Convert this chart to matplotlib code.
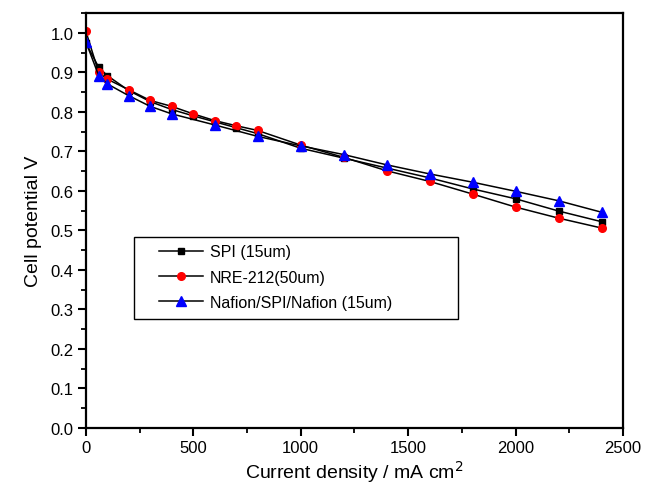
import matplotlib
matplotlib.use("Agg")
import matplotlib.pyplot as plt
from matplotlib.ticker import MultipleLocator, FormatStrFormatter
from matplotlib.patches import Rectangle

plt.rcParams['font.family'] = ['Liberation Sans', 'DejaVu Sans']

# data
x_spi = [0, 60, 100, 200, 300, 400, 500, 600, 700, 800, 1000, 1200, 1400, 1600, 1800, 2000, 2200, 2400]
v_spi = [0.975, 0.913, 0.892, 0.854, 0.826, 0.806, 0.790, 0.775, 0.760, 0.745, 0.708, 0.683, 0.658,
         0.633, 0.605, 0.580, 0.549, 0.522]

x_nre = [0, 60, 100, 200, 300, 400, 500, 600, 700, 800, 1000, 1200, 1400, 1600, 1800, 2000, 2200, 2400]
v_nre = [1.005, 0.900, 0.883, 0.856, 0.829, 0.814, 0.795, 0.778, 0.765, 0.753, 0.716, 0.685, 0.651,
         0.624, 0.592, 0.559, 0.531, 0.506]

x_naf = [0, 60, 100, 200, 300, 400, 600, 800, 1000, 1200, 1400, 1600, 1800, 2000, 2200, 2400]
v_naf = [0.978, 0.892, 0.871, 0.841, 0.814, 0.795, 0.767, 0.738, 0.714, 0.692, 0.666, 0.643,
         0.622, 0.599, 0.575, 0.546]

labels = ["SPI (15um)", "NRE-212(50um)", "Nafion/SPI/Nafion (15um)"]

fig = plt.figure(figsize=(6.45, 4.89), dpi=100)
ax = fig.add_axes([0.133, 0.123, 0.833, 0.848])

ax.plot(x_spi, v_spi, color="black", lw=1.1, marker="s", ms=5, mfc="black", mec="black", label=labels[0])
ax.plot(x_nre, v_nre, color="black", lw=1.1, marker="o", ms=5.5, mfc="red", mec="red", label=labels[1])
ax.plot(x_naf, v_naf, color="black", lw=1.1, marker="^", ms=7.5, mfc="blue", mec="blue", label=labels[2])

ax.set_xlim(0, 2500)
ax.set_ylim(0, 1.05)
ax.xaxis.set_major_locator(MultipleLocator(500))
ax.xaxis.set_minor_locator(MultipleLocator(250))
ax.yaxis.set_major_locator(MultipleLocator(0.1))
ax.yaxis.set_minor_locator(MultipleLocator(0.05))
ax.yaxis.set_major_formatter(FormatStrFormatter("%.1f"))

ax.tick_params(which="major", direction="out", length=6, width=1.5, labelsize=12, pad=3)
ax.tick_params(which="minor", direction="out", length=3.5, width=1.3)
for s in ax.spines.values():
    s.set_linewidth(1.6)

ax.set_xlabel("Current density / mA cm$^2$", fontsize=14, labelpad=2)
ax.set_ylabel("Cell potential V", fontsize=14, labelpad=6)

# legend box is wider than its content in the original, so draw the frame separately
ax.add_patch(Rectangle((0.089, 0.263), 0.604, 0.197, transform=ax.transAxes,
                       fill=False, edgecolor="black", lw=1.0, zorder=5))
ax.legend(loc="upper left", bbox_to_anchor=(0.136, 0.443), fontsize=11.5, frameon=False,
          handlelength=2.75, handletextpad=0.45, borderpad=0, labelspacing=0.65,
          borderaxespad=0)

fig.savefig("out.png", dpi=100)
